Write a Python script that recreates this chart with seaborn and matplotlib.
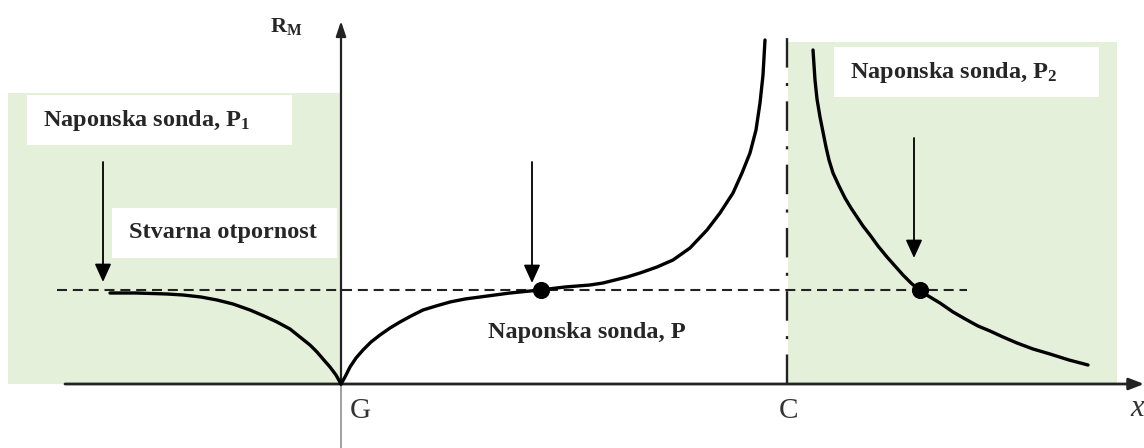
import numpy as np
import pandas as pd
import matplotlib
matplotlib.use("Agg")
import matplotlib.pyplot as plt
from matplotlib.patches import Rectangle
import seaborn as sns

# ---- data (x distance from G, apparent resistance R_M) ----
left_x = [-231, -205, -174, -158, -140, -124, -108, -91, -77, -64, -51, -41,
          -31, -24, -18, -11, -5, 0]
left_y = [91, 91, 90, 89, 87, 84, 80, 74, 68, 62, 55, 47,
          39, 32, 25, 17, 9, 0]

mid_x = [0, 4, 9, 15, 22, 30, 39, 49, 59, 70, 82, 95, 109, 124, 139, 154,
         169, 184, 199, 224, 249, 262, 274, 286, 299, 316, 332, 349, 366,
         379, 392, 401, 409, 415, 419, 422, 424]
mid_y = [0, 7, 17, 26, 34, 42, 49, 56, 62, 68, 74, 78, 82, 85, 87, 89,
         91, 92.5, 94, 97, 99, 101, 104, 107, 111, 117, 124, 136, 154,
         171, 191, 211, 231, 254, 281, 309, 344]

right_x = [472, 473, 474, 476, 479, 482, 485, 488, 492, 498, 504, 510, 516,
           522, 529, 537, 546, 554, 562, 570, 579, 589, 599, 612, 626, 637,
           649, 662, 676, 692, 709, 728, 747]
right_y = [334, 319, 304, 285, 267, 252, 237, 224, 211, 198, 186, 176, 167,
           158, 149, 138, 127, 118, 109, 101, 93, 87, 81, 72, 64, 58,
           53, 47, 41, 35, 30, 24, 19]

true_R = 94
probe_x = [200, 579]
probe_y = [94, 94]
C_x = 446

labels_probe = ["Naponska sonda, $\\mathbf{P_1}$", "Naponska sonda, P",
                "Naponska sonda, $\\mathbf{P_2}$"]
label_true = "Stvarna otpornost"

# ---- style ----
sns.set_style("white")
plt.rcParams["font.family"] = ["Liberation Serif", "DejaVu Serif"]
plt.rcParams["mathtext.fontset"] = "custom"
plt.rcParams["mathtext.rm"] = "Liberation Serif"
plt.rcParams["mathtext.bf"] = "Liberation Serif:bold"
plt.rcParams["mathtext.it"] = "Liberation Serif:italic"

fig = plt.figure(figsize=(11.44, 4.48), dpi=100)
ax = fig.add_axes([0, 0, 1, 1])
ax.set_xlim(-341, 803)
ax.set_ylim(-64, 384)
ax.axis("off")

green = "#e5f0da"
ax.add_patch(Rectangle((-333, 0), 333, 291, facecolor=green, edgecolor="none", zorder=0))
ax.add_patch(Rectangle((447, 0), 329, 342, facecolor=green, edgecolor="none", zorder=0))

# white text boxes
boxes = [(-314, 239, 265, 50), (-229, 126, 225, 50), (129, 26, 258, 50), (493, 287, 265, 50)]
for bx, by, bw, bh in boxes:
    ax.add_patch(Rectangle((bx, by), bw, bh, facecolor="white", edgecolor="none", zorder=1))

# axes lines
ax.annotate("", xy=(803, 0), xytext=(-276, 0),
            arrowprops=dict(arrowstyle="-|>,head_length=0.9,head_width=0.35", color="#222222",
                            lw=2.0, shrinkA=0, shrinkB=0), zorder=3)
ax.annotate("", xy=(0, 363), xytext=(0, 0),
            arrowprops=dict(arrowstyle="-|>,head_length=0.9,head_width=0.3", color="#222222",
                            lw=1.6, shrinkA=0, shrinkB=0), zorder=3)
ax.plot([0, 0], [-64, 0], color="#999999", lw=1.3, zorder=2)

# C asymptote (dash-dot)
ax.plot([C_x, C_x], [0, 347], color="#222222", lw=1.7,
        linestyle=(0, (12.5, 6.5, 1.3, 6.5)), zorder=3)

# true resistance dashed line
ax.plot([-284, 626], [true_R, true_R], color="#222222", lw=1.5,
        linestyle=(0, (4.8, 2.8)), zorder=3)

# curves
for xs, ys in [(left_x, left_y), (mid_x, mid_y), (right_x, right_y)]:
    df = pd.DataFrame({"x": xs, "y": ys})
    sns.lineplot(data=df, x="x", y="y", sort=False, estimator=None, color="black",
                 lw=2.4, ax=ax, zorder=4, solid_joinstyle="round",
                 solid_capstyle="round")

sns.scatterplot(x=probe_x, y=probe_y, color="black", s=130, edgecolor="black",
                ax=ax, zorder=5)

# probe arrows
for (xa, y0, y1) in [(-238, 222, 102), (191, 222, 101), (573, 246, 126)]:
    ax.annotate("", xy=(xa, y1), xytext=(xa, y0),
                arrowprops=dict(arrowstyle="-|>,head_length=1.1,head_width=0.5",
                                color="black", lw=1.3, shrinkA=0, shrinkB=0), zorder=5)

# texts
tkw = dict(fontsize=17.5, fontweight="bold", ha="center", va="center", zorder=6)
ax.text(-194, 264, labels_probe[0], **tkw)
ax.text(-118, 152, label_true, **tkw)
ax.text(246, 52, labels_probe[1], **tkw)
ax.text(613, 312, labels_probe[2], **tkw)

ax.text(-55, 358, "$\\mathbf{R_M}$", fontsize=16, ha="center", va="center")
ax.text(19, -27, "G", fontsize=21, color="#333333", ha="center", va="center")
ax.text(447, -27, "C", fontsize=21, color="#333333", ha="center", va="center")
ax.text(796, -24, "x", fontsize=22, style="italic", color="#333333", ha="center", va="center")

fig.savefig("out.png", dpi=100)
